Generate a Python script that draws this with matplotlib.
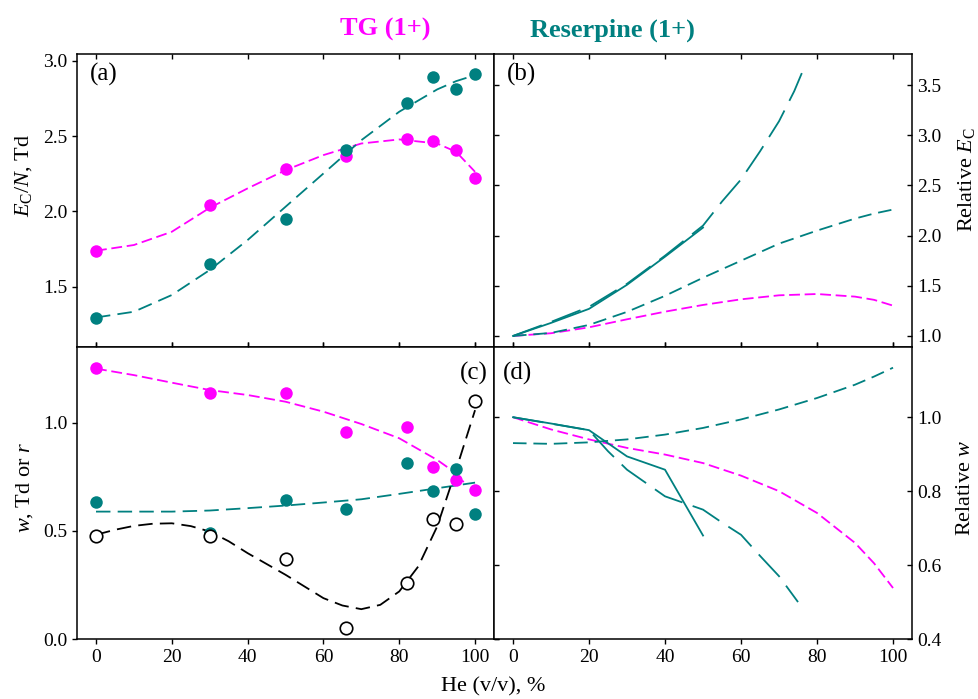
import matplotlib
matplotlib.use('Agg')
import matplotlib.pyplot as plt
from matplotlib.ticker import FormatStrFormatter

plt.rcParams['font.family'] = ['Liberation Serif', 'DejaVu Serif']
plt.rcParams['mathtext.fontset'] = 'custom'
plt.rcParams['mathtext.rm'] = 'Liberation Serif'
plt.rcParams['mathtext.it'] = 'Liberation Serif:italic'

MAGENTA = '#ff00ff'
TEAL = '#008080'

# He content (v/v), %
he = [0, 30, 50, 66, 82, 89, 95, 100]

# (a) E_C/N, Td
tg_ec = [1.74, 2.04, 2.28, 2.37, 2.48, 2.47, 2.41, 2.22]
res_ec = [1.29, 1.65, 1.95, 2.41, 2.72, 2.89, 2.81, 2.91]

# (c) w, Td and r
tg_w = [1.255, 1.138, 1.138, 0.955, 0.978, 0.797, 0.735, 0.688]
res_w = [0.635, 0.492, 0.643, 0.600, 0.815, 0.686, 0.788, 0.578]
r_val = [0.477, 0.474, 0.369, 0.049, 0.257, 0.557, 0.532, 1.102]

# fitted curves
fit_x = [0, 10, 20, 30, 40, 50, 60, 70, 80, 90, 95, 100]
tg_ec_fit = [1.739, 1.777, 1.865, 2.024, 2.153, 2.274, 2.374, 2.451, 2.478, 2.451, 2.396, 2.263]
res_ec_fit = [1.296, 1.334, 1.445, 1.611, 1.810, 2.031, 2.252, 2.473, 2.662, 2.810, 2.865, 2.905]

tg_w_fit_x = [0, 10, 20, 30, 40, 50, 60, 70, 80, 90, 95, 97]
tg_w_fit = [1.25, 1.22, 1.185, 1.151, 1.128, 1.097, 1.051, 0.994, 0.928, 0.828, 0.766, 0.725]
res_w_fit = [0.589, 0.589, 0.589, 0.594, 0.605, 0.617, 0.631, 0.646, 0.671, 0.697, 0.710, 0.723]

r_fit_x = [0, 5, 10, 15, 20, 25, 30, 35, 40, 45, 50, 55, 60, 65, 70, 75, 80, 85, 90, 95, 100]
r_fit = [0.482, 0.505, 0.523, 0.533, 0.535, 0.522, 0.497, 0.452, 0.397, 0.347, 0.297, 0.243, 0.189,
         0.155, 0.138, 0.158, 0.22, 0.335, 0.52, 0.782, 1.058]

# (b) relative E_C
tg_rel_ec = [1.0, 1.027, 1.086, 1.166, 1.242, 1.309, 1.365, 1.405, 1.418, 1.392, 1.36, 1.302]
res_rel_ec = [1.0, 1.03, 1.11, 1.24, 1.40, 1.58, 1.75, 1.92, 2.05, 2.17, 2.22, 2.26]
solid_x = [0, 10, 20, 30, 40, 50]
res_rel_ec_solid = [1.0, 1.13, 1.27, 1.51, 1.79, 2.08]
long_x = [0, 10, 20, 30, 40, 50, 55, 60, 65, 70, 74, 76]
res_rel_ec_long = [1.0, 1.14, 1.29, 1.52, 1.80, 2.10, 2.34, 2.56, 2.84, 3.14, 3.44, 3.62]

# (d) relative w
tg_rel_w = [1.0, 0.967, 0.94, 0.917, 0.899, 0.876, 0.842, 0.80, 0.741, 0.66, 0.605, 0.538]
res_rel_w = [0.930, 0.928, 0.932, 0.94, 0.953, 0.971, 0.994, 1.021, 1.052, 1.088, 1.11, 1.134]
res_rel_w_solid = [1.0, 0.983, 0.965, 0.894, 0.858, 0.680]
long_w_x = [0, 20, 25, 30, 35, 40, 45, 50, 55, 60, 65, 70, 75]
res_rel_w_long = [1.0, 0.965, 0.908, 0.858, 0.822, 0.786, 0.768, 0.75, 0.715, 0.682, 0.625, 0.57, 0.50]

fig = plt.figure(figsize=(9.79, 6.99), dpi=100)
ax_a = fig.add_axes([0.0787, 0.5036, 0.4259, 0.4191])
ax_b = fig.add_axes([0.5046, 0.5036, 0.427, 0.4191])
ax_c = fig.add_axes([0.0787, 0.0858, 0.4259, 0.4178])
ax_d = fig.add_axes([0.5046, 0.0858, 0.427, 0.4178])

lw = 1.3
ms = 9
d_mag = (6.0, 2.6)
d_long_a = (8.0, 4.0)
d_short = (7.5, 3.8)
d_long = (17.0, 6.0)

# (a)
ax_a.plot(fit_x, tg_ec_fit, color=MAGENTA, lw=lw, dashes=d_mag)
ax_a.plot(fit_x, res_ec_fit, color=TEAL, lw=lw, dashes=d_long_a)
ax_a.plot(he, tg_ec, 'o', color=MAGENTA, ms=ms, mec='none')
ax_a.plot(he, res_ec, 'o', color=TEAL, ms=ms, mec='none')
ax_a.set_ylim(1.1, 3.045)
ax_a.set_yticks([1.5, 2.0, 2.5, 3.0])
ax_a.set_ylabel(r'$E_\mathrm{C}/N$, Td', fontsize=16)
ax_a.yaxis.set_label_coords(-0.104, 0.585)

# (b)
ax_b.plot(fit_x, tg_rel_ec, color=MAGENTA, lw=lw, dashes=d_mag)
ax_b.plot(fit_x, res_rel_ec, color=TEAL, lw=lw, dashes=d_short)
ax_b.plot(solid_x, res_rel_ec_solid, color=TEAL, lw=lw)
ax_b.plot(long_x, res_rel_ec_long, color=TEAL, lw=lw, dashes=d_long)
ax_b.set_ylim(0.89, 3.81)
ax_b.set_yticks([1.0, 1.5, 2.0, 2.5, 3.0, 3.5])
ax_b.yaxis.tick_right()
ax_b.set_ylabel(r'Relative $E_\mathrm{C}$', fontsize=16, rotation=90)
ax_b.yaxis.set_label_position('right')
ax_b.yaxis.set_label_coords(1.106, 0.57)

# (c)
ax_c.plot(tg_w_fit_x, tg_w_fit, color=MAGENTA, lw=lw, dashes=d_mag)
ax_c.plot(fit_x, res_w_fit, color=TEAL, lw=lw, dashes=d_long_a)
ax_c.plot(r_fit_x, r_fit, color='black', lw=lw, dashes=d_long_a)
ax_c.plot(he, tg_w, 'o', color=MAGENTA, ms=ms, mec='none')
ax_c.plot(he, res_w, 'o', color=TEAL, ms=ms, mec='none')
ax_c.plot(he, r_val, 'o', mfc='white', mec='black', mew=1.2, ms=ms)
ax_c.set_ylim(0, 1.35)
ax_c.set_yticks([0.0, 0.5, 1.0])
ax_c.set_ylabel(r'$w$, Td or $r$', fontsize=16)
ax_c.yaxis.set_label_coords(-0.102, 0.52)

# (d)
ax_d.plot(fit_x, tg_rel_w, color=MAGENTA, lw=lw, dashes=d_mag)
ax_d.plot(fit_x, res_rel_w, color=TEAL, lw=lw, dashes=d_short)
ax_d.plot(solid_x, res_rel_w_solid, color=TEAL, lw=lw)
ax_d.plot(long_w_x, res_rel_w_long, color=TEAL, lw=lw, dashes=d_long)
ax_d.set_ylim(0.4, 1.19)
ax_d.set_yticks([0.4, 0.6, 0.8, 1.0])
ax_d.yaxis.tick_right()
ax_d.set_ylabel(r'Relative $w$', fontsize=16, rotation=90)
ax_d.yaxis.set_label_position('right')
ax_d.yaxis.set_label_coords(1.106, 0.517)

for ax in [ax_a, ax_b, ax_c, ax_d]:
    ax.set_xlim(-5, 105)
    ax.set_xticks([0, 20, 40, 60, 80, 100])
    ax.yaxis.set_major_formatter(FormatStrFormatter('%.1f'))
    for s in ax.spines.values():
        s.set_linewidth(1.1)
    ax.tick_params(labelsize=14, width=1.0, length=3.5, top=True, bottom=True, left=True, right=True)

ax_a.tick_params(axis='y', direction='out', labelright=False)
ax_c.tick_params(axis='y', direction='out', labelright=False)
ax_b.tick_params(axis='y', direction='in', labelleft=False, labelright=True)
ax_d.tick_params(axis='y', direction='in', labelleft=False, labelright=True)
ax_a.tick_params(axis='x', direction='in', labelbottom=False)
ax_b.tick_params(axis='x', direction='in', labelbottom=False)
ax_c.tick_params(axis='x', direction='out', labeltop=False)
ax_d.tick_params(axis='x', direction='out', labeltop=False)

ax_a.text(0.031, 0.97, '(a)', transform=ax_a.transAxes, fontsize=18, ha='left', va='top')
ax_b.text(0.031, 0.97, '(b)', transform=ax_b.transAxes, fontsize=18, ha='left', va='top')
ax_c.text(0.986, 0.95, '(c)', transform=ax_c.transAxes, fontsize=18, ha='right', va='top')
ax_d.text(0.022, 0.95, '(d)', transform=ax_d.transAxes, fontsize=18, ha='left', va='top')

fig.text(0.394, 0.958, 'TG (1+)', color=MAGENTA, fontsize=19, fontweight='bold', ha='center', va='center')
fig.text(0.626, 0.957, 'Reserpine (1+)', color=TEAL, fontsize=19, fontweight='bold', ha='center', va='center')
fig.text(0.504, 0.003, 'He (v/v), %', fontsize=16, ha='center', va='bottom')

fig.savefig('out.png', dpi=100)
